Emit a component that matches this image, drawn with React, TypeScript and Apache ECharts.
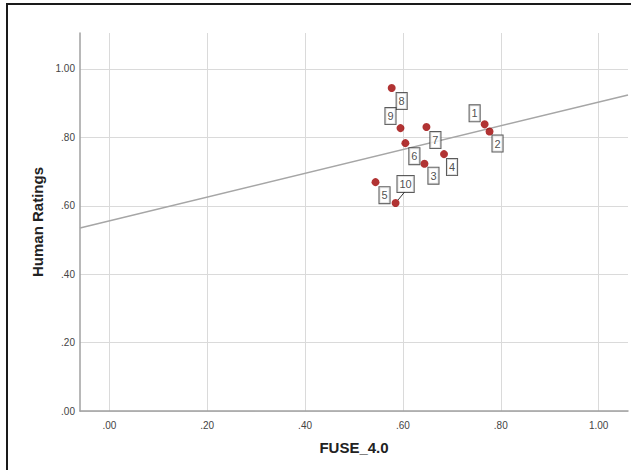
import React, { useEffect, useRef } from "react";
import * as echarts from "echarts";

const caseIds = ["1", "2", "3", "4", "5", "6", "7", "8", "9", "10"];
const fuseValues = [0.767, 0.777, 0.644, 0.684, 0.544, 0.605, 0.648, 0.577, 0.595, 0.585];
const humanRatings = [0.838, 0.817, 0.723, 0.751, 0.669, 0.783, 0.83, 0.944, 0.827, 0.608];
const labelOffsets = [
  [-10, -11], [8, 12], [9, 12], [8, 13], [9, 13], [9, 13], [9, 13], [10, 13], [-10, -12], [10, -19],
];
const fitX = [-0.06, 1.06];
const fitY = [0.535, 0.924];
const xTicks = [0, 0.2, 0.4, 0.6, 0.8, 1.0];
const yTicks = [0, 0.2, 0.4, 0.6, 0.8, 1.0];

const fmt = (v: number) => v.toFixed(2).replace(/^0/, "");

export default function App() {
  const ref = useRef<HTMLDivElement>(null);
  useEffect(() => {
    if (!ref.current) return;
    const chart = echarts.init(ref.current, undefined, { renderer: "svg" });
    const font = "'Liberation Sans', Arial, sans-serif";
    chart.setOption({
      animation: false,
      backgroundColor: "#ffffff",
      textStyle: { fontFamily: font },
      graphic: [
        {
          type: "rect",
          shape: { x: 7, y: 4, width: 660, height: 500 },
          style: { fill: "none", stroke: "#1a1a1a", lineWidth: 2 },
          silent: true,
          z: 100,
        },
      ],
      grid: { left: 80, top: 33, right: 3, bottom: 59 },
      xAxis: {
        type: "value",
        min: -0.06,
        max: 1.06,
        name: "FUSE_4.0",
        nameLocation: "middle",
        nameGap: 29,
        nameTextStyle: { fontFamily: font, fontWeight: "bold", fontSize: 15, color: "#222" },
        axisLine: { show: true, onZero: false, lineStyle: { color: "#a0a0a0", width: 1.5 } },
        axisTick: { show: false, customValues: xTicks },
        axisLabel: {
          customValues: xTicks,
          formatter: (v: number) => fmt(v),
          fontSize: 10,
          color: "#444",
          margin: 9,
          fontFamily: font,
        },
        splitLine: { show: true, lineStyle: { color: "#dadada", width: 1 } },
      },
      yAxis: {
        type: "value",
        min: 0,
        max: 1.105,
        name: "Human Ratings",
        nameLocation: "middle",
        nameGap: 33,
        nameTextStyle: { fontFamily: font, fontWeight: "bold", fontSize: 15, color: "#222" },
        axisLine: { show: true, onZero: false, lineStyle: { color: "#a0a0a0", width: 1.5 } },
        axisTick: { show: false, customValues: yTicks },
        axisLabel: {
          customValues: yTicks,
          formatter: (v: number) => fmt(v),
          fontSize: 10,
          color: "#444",
          margin: 5,
          fontFamily: font,
        },
        splitLine: { show: true, lineStyle: { color: "#dadada", width: 1 } },
      },
      series: [
        {
          type: "line",
          data: fitX.map((x, i) => [x, fitY[i]]),
          symbol: "none",
          lineStyle: { color: "#a6a6a6", width: 1.5 },
          silent: true,
          z: 2,
        },
        {
          type: "scatter",
          symbolSize: 8,
          itemStyle: { color: "#9e0000" },
          z: 3,
          data: fuseValues.map((x, i) => ({
            value: [x, humanRatings[i]],
            name: caseIds[i],
            label: { offset: labelOffsets[i] },
            labelLine: i === 9 ? { show: true } : undefined,
          })),
          label: {
            show: true,
            position: "inside",
            formatter: (p: any) => p.name,
            fontSize: 11,
            color: "#222",
            fontFamily: font,
            backgroundColor: "#ffffff",
            borderColor: "#333",
            borderWidth: 1,
            padding: [3, 2, 2, 2],
          },
          labelLine: { show: false, lineStyle: { color: "#333", width: 1 } },
        },
      ],
    });
    return () => chart.dispose();
  }, []);
  return (
    <div
      ref={ref}
      style={{ position: "fixed", left: 0, top: 0, width: 631, height: 470 }}
    />
  );
}
